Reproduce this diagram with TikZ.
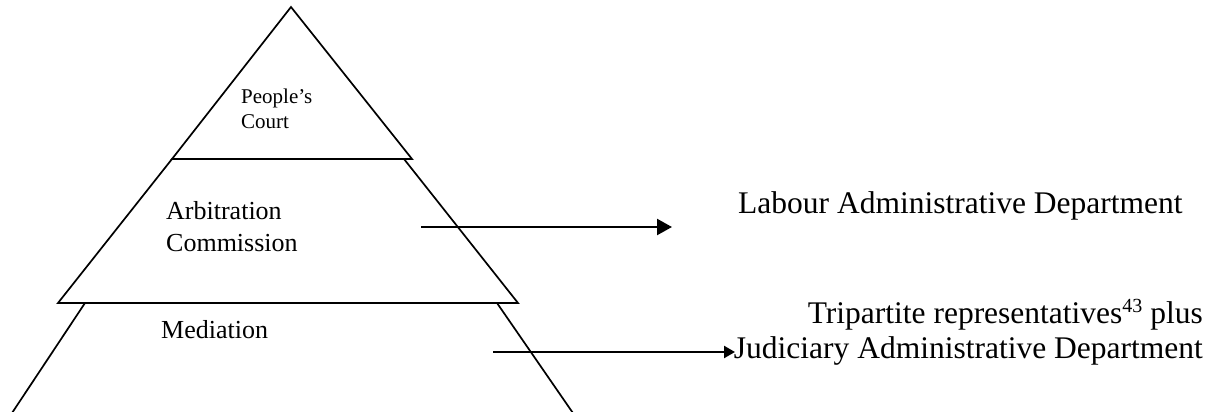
\documentclass[tikz,border=0pt]{standalone}
\usepackage{fontspec}
\setmainfont{Liberation Serif}
\usetikzlibrary{arrows.meta}
\tikzset{
  shapeline/.style={line width=1.7pt, line join=miter},
  arrowline/.style={line width=2.3pt},
  lbl/.style={inner sep=0pt, anchor=base west},
  smalltxt/.style={font=\fontsize{21}{25}\selectfont},
  midtxt/.style={font=\fontsize{26}{31}\selectfont},
  bigtxt/.style={font=\fontsize{31.5}{36}\selectfont},
}
\newcommand{\mysup}[1]{\raisebox{11pt}{\fontsize{20}{20}\selectfont #1}}
\begin{document}
\begin{tikzpicture}[x=1pt,y=-1pt]
\useasboundingbox (0,0) rectangle (1221,412);
% pyramid
\draw[shapeline] (291,7) -- (412,159) -- (172,159) -- cycle;
\draw[shapeline] (172,159) -- (404,159) -- (518,303) -- (58,303) -- cycle;
\draw[shapeline] (10,416) -- (85,303) -- (497,303) -- (575,416);
% labels in pyramid
\node[lbl, smalltxt] (pc1) at (241,103) {People’s};
\node[lbl, smalltxt] (pc2) at (241,128) {Court};
\node[lbl, midtxt] (ac1) at (166,219) {Arbitration};
\node[lbl, midtxt] (ac2) at (166,251) {Commission};
\node[lbl, midtxt] (med) at (161,338) {Mediation};
% right labels
\node[lbl, bigtxt] (lab) at (738,213) {Labour Administrative Department};
\node[inner sep=0pt, anchor=base east, bigtxt] (tri) at (1203,323) {Tripartite representatives\mysup{43} plus};
\node[inner sep=0pt, anchor=base east, bigtxt] (jud) at (1203,358) {Judiciary Administrative Department};
% arrows
\coordinate (a1s) at (421,227);
\coordinate (a1e) at (672,227);
\coordinate (a2s) at (493,352);
\coordinate (a2e) at (735,352);
\draw[arrowline, -{Triangle[length=15pt,width=16pt]}] (a1s) -- (a1e);
\draw[arrowline, -{Triangle[length=11pt,width=12pt]}] (a2s) -- (a2e);
\end{tikzpicture}
\end{document}
